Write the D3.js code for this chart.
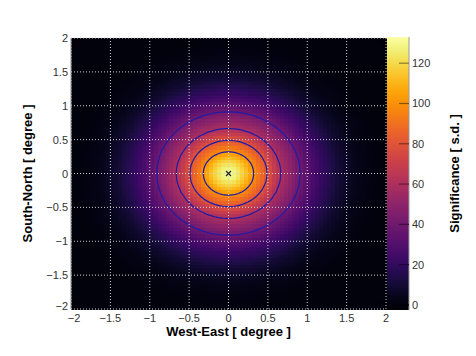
<!DOCTYPE html>
<html>
<head>
<meta charset="UTF-8">
<script src="https://d3js.org/d3.v7.min.js"></script>
<style>
  body { margin: 0; background: #fff; }
  text { font-family: "Liberation Sans", Arial, sans-serif; }
</style>
</head>
<body>
<svg width="476" height="356"></svg>
<script>
// values
const axisTicks = [-2, -1.5, -1, -0.5, 0, 0.5, 1, 1.5, 2];
const colorTicks = [0, 20, 40, 60, 80, 100, 120];
const colorRange = [-2.5, 133];
// radial significance profile (distance from source in degrees -> s.d.)
const profileRadius = [0, 0.1, 0.2, 0.32, 0.4, 0.49, 0.57, 0.66, 0.78, 0.91, 1.0, 1.2, 1.4, 1.6, 1.8, 2.0, 3.0];
const profileSig    = [132, 127, 116, 100, 90, 80, 70, 60, 50, 40, 33, 20, 10, 4, 1.5, 0.5, 0];
const contourLevels = [40, 60, 80, 100];
const source = [0, 0];

const svg = d3.select("svg");
const plotL = 71, plotR = 386, plotT = 38, plotB = 309;
const cell = 0.05;                       // map bin size (degree)
const nBins = Math.round(4 / cell);

const x = d3.scaleLinear().domain([-2, 2]).range([plotL, plotR]);
const y = d3.scaleLinear().domain([-2, 2]).range([plotB, plotT]);
const color = d3.scaleSequential(d3.interpolateInferno).domain(colorRange);
const profile = d3.scaleLinear().domain(profileRadius).range(profileSig).clamp(true);

// binned map
const bins = [];
const values = [];
for (let j = 0; j < nBins; j++) {
  for (let i = 0; i < nBins; i++) {
    const cx = -2 + (i + 0.5) * cell;
    const cy = 2 - (j + 0.5) * cell;
    const v = profile(Math.hypot(cx - source[0], cy - source[1]));
    bins.push({ cx, cy, v });
    values.push(v);
  }
}

svg.append("g")
  .attr("shape-rendering", "crispEdges")
  .selectAll("rect")
  .data(bins)
  .join("rect")
  .attr("x", d => x(d.cx - cell / 2))
  .attr("y", d => y(d.cy + cell / 2))
  .attr("width", x(cell) - x(0) + 0.6)
  .attr("height", y(0) - y(cell) + 0.6)
  .attr("fill", d => color(d.v));

// contours
const toPx = d3.geoTransform({
  point: function (px, py) {
    this.stream.point(x(-2 + px * cell), y(2 - py * cell));
  }
});
svg.append("g").selectAll("path")
  .data(d3.contours().size([nBins, nBins]).thresholds(contourLevels)(values))
  .join("path")
  .attr("d", d3.geoPath(toPx))
  .attr("fill", "none")
  .attr("stroke", "#1c1ca8")
  .attr("stroke-width", 1.2);

// dotted grid
const grid = svg.append("g")
  .attr("stroke", "#d0d0d0")
  .attr("stroke-width", 1)
  .attr("stroke-dasharray", "1,2");
grid.selectAll(".gx").data(axisTicks).join("line")
  .attr("x1", d => x(d)).attr("x2", d => x(d))
  .attr("y1", plotT).attr("y2", plotB);
grid.selectAll(".gy").data(axisTicks).join("line")
  .attr("y1", d => y(d)).attr("y2", d => y(d))
  .attr("x1", plotL).attr("x2", plotR);

svg.append("line")
  .attr("x1", plotL).attr("x2", plotL).attr("y1", plotT).attr("y2", plotB)
  .attr("stroke", "#999");

// source marker
const s = 2.5;
svg.append("path")
  .attr("d", `M${x(source[0]) - s},${y(source[1]) - s}L${x(source[0]) + s},${y(source[1]) + s}` +
             `M${x(source[0]) - s},${y(source[1]) + s}L${x(source[0]) + s},${y(source[1]) - s}`)
  .attr("stroke", "#222").attr("stroke-width", 1.2);

const fmt = d => (d < 0 ? "\u2212" : "") + Math.abs(d);

// axes labels
svg.append("g").selectAll("text").data(axisTicks).join("text")
  .attr("x", d => x(d) + (d === -2 ? 3 : 0))
  .attr("y", plotB + 13)
  .attr("text-anchor", "middle")
  .attr("font-size", 11).attr("fill", "#333")
  .text(fmt);
svg.append("g").selectAll("text").data(axisTicks).join("text")
  .attr("x", plotL - 3)
  .attr("y", d => y(d) + 4 - (d === -2 ? 3 : 0))
  .attr("text-anchor", "end")
  .attr("font-size", 11).attr("fill", "#333")
  .text(fmt);

svg.append("text")
  .attr("x", (plotL + plotR) / 2).attr("y", 336)
  .attr("text-anchor", "middle")
  .attr("font-size", 13).attr("font-weight", "bold")
  .text("West-East [ degree ]");
svg.append("text")
  .attr("transform", `translate(32,${(plotT + plotB) / 2}) rotate(-90)`)
  .attr("text-anchor", "middle")
  .attr("font-size", 13).attr("font-weight", "bold")
  .text("South-North [ degree ]");

// colour bar
const cbLeft = 387, cbRight = 409, cbTop = 37, cbBottom = 310;
const cy2 = d3.scaleLinear().domain(colorRange).range([cbBottom, cbTop]);
const defs = svg.append("defs");
const grad = defs.append("linearGradient").attr("id", "cb")
  .attr("x1", 0).attr("x2", 0).attr("y1", 1).attr("y2", 0);
grad.selectAll("stop").data(d3.range(0, 1.0001, 0.05)).join("stop")
  .attr("offset", d => d)
  .attr("stop-color", d => color(colorRange[0] + d * (colorRange[1] - colorRange[0])));
svg.append("rect")
  .attr("x", cbLeft).attr("y", cbTop)
  .attr("width", cbRight - cbLeft).attr("height", cbBottom - cbTop)
  .attr("fill", "url(#cb)");
svg.append("line")
  .attr("x1", cbRight).attr("x2", cbRight).attr("y1", cbTop).attr("y2", cbBottom)
  .attr("stroke", "#999");

svg.append("g").selectAll("line").data(colorTicks).join("line")
  .attr("x1", cbRight - 10).attr("x2", cbRight)
  .attr("y1", d => cy2(d)).attr("y2", d => cy2(d))
  .attr("stroke", d => d3.color(color(d)).darker(1.6))
  .attr("stroke-width", 1.2);
svg.append("g").selectAll("text").data(colorTicks).join("text")
  .attr("x", cbRight + 3)
  .attr("y", d => cy2(d) + 4)
  .attr("font-size", 11).attr("fill", "#333")
  .text(d => d);

svg.append("text")
  .attr("transform", `translate(459,${(cbTop + cbBottom) / 2}) rotate(-90)`)
  .attr("text-anchor", "middle")
  .attr("font-size", 13).attr("font-weight", "bold")
  .text("Significance [ s.d. ]");
</script>
</body>
</html>
